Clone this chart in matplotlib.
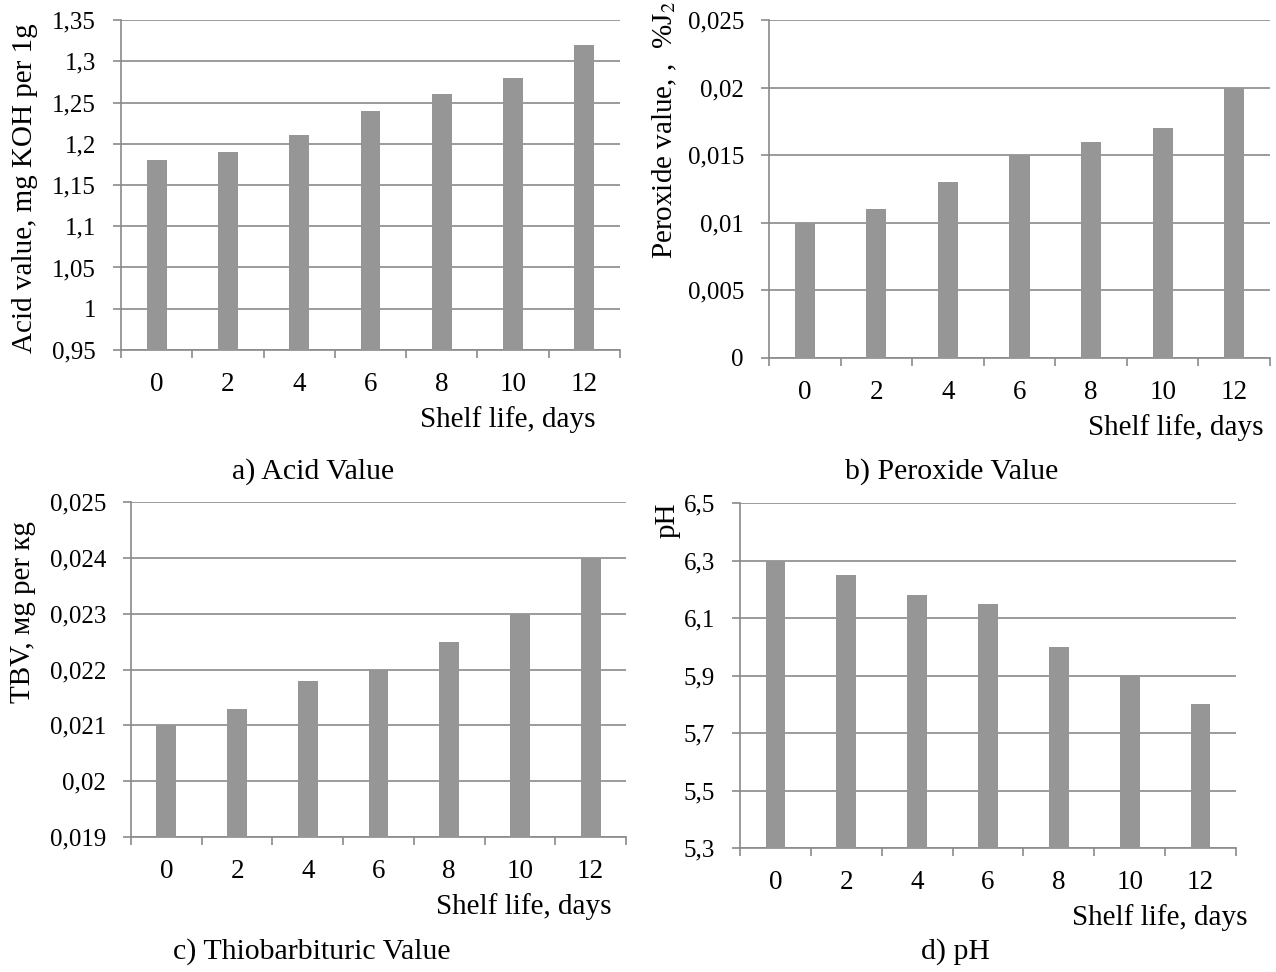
import matplotlib
matplotlib.use("Agg")
import matplotlib.pyplot as plt
import numpy as np

plt.rcParams['font.family'] = ['Liberation Serif', 'DejaVu Serif']
plt.rcParams['mathtext.fontset'] = 'stix'
plt.rcParams['font.size'] = 21

days = ["0", "2", "4", "6", "8", "10", "12"]
acid = [1.18, 1.19, 1.21, 1.24, 1.26, 1.28, 1.32]
peroxide = [0.010, 0.011, 0.013, 0.015, 0.016, 0.017, 0.020]
tbv = [0.021, 0.0213, 0.0218, 0.022, 0.0225, 0.023, 0.024]
ph = [6.3, 6.25, 6.18, 6.15, 6.0, 5.9, 5.8]

acid_ticks = [0.95, 1.0, 1.05, 1.1, 1.15, 1.2, 1.25, 1.3, 1.35]
acid_labels = ["0,95", "1", "1,05", "1,1", "1,15", "1,2", "1,25", "1,3", "1,35"]
per_ticks = [0, 0.005, 0.01, 0.015, 0.02, 0.025]
per_labels = ["0", "0,005", "0,01", "0,015", "0,02", "0,025"]
tbv_ticks = [0.019, 0.020, 0.021, 0.022, 0.023, 0.024, 0.025]
tbv_labels = ["0,019", "0,02", "0,021", "0,022", "0,023", "0,024", "0,025"]
ph_ticks = [5.3, 5.5, 5.7, 5.9, 6.1, 6.3, 6.5]
ph_labels = ["5,3", "5,5", "5,7", "5,9", "6,1", "6,3", "6,5"]

W, H = 1276, 972
fig = plt.figure(figsize=(W / 100, H / 100), dpi=100)

BAR = "#969696"
LINE = "#8a8a8a"


def px(x, y):
    return x / W, 1 - y / H


def panel(x0, x1, y0, y1, values, ticks, labels):
    ax = fig.add_axes([x0 / W, 1 - y1 / H, (x1 - x0) / W, (y1 - y0) / H])
    pos = np.arange(len(days))
    ax.bar(pos, [v - ticks[0] for v in values], bottom=ticks[0], width=0.28,
           color=BAR, zorder=3)
    ax.set_xlim(-0.5, len(days) - 0.5)
    ax.set_ylim(ticks[0], ticks[-1])
    ax.set_yticks(ticks)
    ax.set_yticklabels(labels, fontsize=18)
    ax.set_xticks(pos)
    ax.set_xticklabels(days, fontsize=19.5)
    ax.set_xticks(np.arange(len(days) + 1) - 0.5, minor=True)
    ax.tick_params(axis='x', which='major', length=0, pad=16)
    ax.tick_params(axis='x', which='minor', length=6, color=LINE, width=1.2)
    ax.tick_params(axis='y', length=6, color=LINE, width=1.2, pad=12)
    ax.grid(axis='y', color=LINE, linewidth=1.2, zorder=0)
    for s in ['top', 'right']:
        ax.spines[s].set_visible(False)
    for s in ['left', 'bottom']:
        ax.spines[s].set_color(LINE)
        ax.spines[s].set_linewidth(1.2)
    return ax


panel(121, 620, 20, 350, acid, acid_ticks, acid_labels)
panel(769, 1270, 20, 358, peroxide, per_ticks, per_labels)
panel(131, 626, 502, 837, tbv, tbv_ticks, tbv_labels)
panel(740, 1236, 503, 848, ph, ph_ticks, ph_labels)

# axis titles
fig.text(*px(25, 188), "Acid value, mg KOH per 1g", rotation=90, ha='center', va='center')
fig.text(*px(665, 130), r"Peroxide value, ,  %J$_2$", rotation=90, ha='center', va='center')
fig.text(*px(23, 612), "TBV, мg per кg", rotation=90, ha='center', va='center')
fig.text(*px(668, 520), "pH", rotation=90, ha='center', va='center')

fig.text(*px(596, 420), "Shelf life, days", ha='right', va='center')
fig.text(*px(1263, 428), "Shelf life, days", ha='right', va='center')
fig.text(*px(611, 907), "Shelf life, days", ha='right', va='center')
fig.text(*px(1247, 918), "Shelf life, days", ha='right', va='center')

# panel captions
fig.text(*px(313, 472), "a) Acid Value", ha='center', va='center', fontsize=21.5)
fig.text(*px(952, 472), "b) Peroxide Value", ha='center', va='center', fontsize=21.5)
fig.text(*px(312, 952), "c) Thiobarbituric Value", ha='center', va='center', fontsize=21.5)
fig.text(*px(955, 952), "d) pH", ha='center', va='center', fontsize=21.5)

fig.savefig("out.png", dpi=100)
